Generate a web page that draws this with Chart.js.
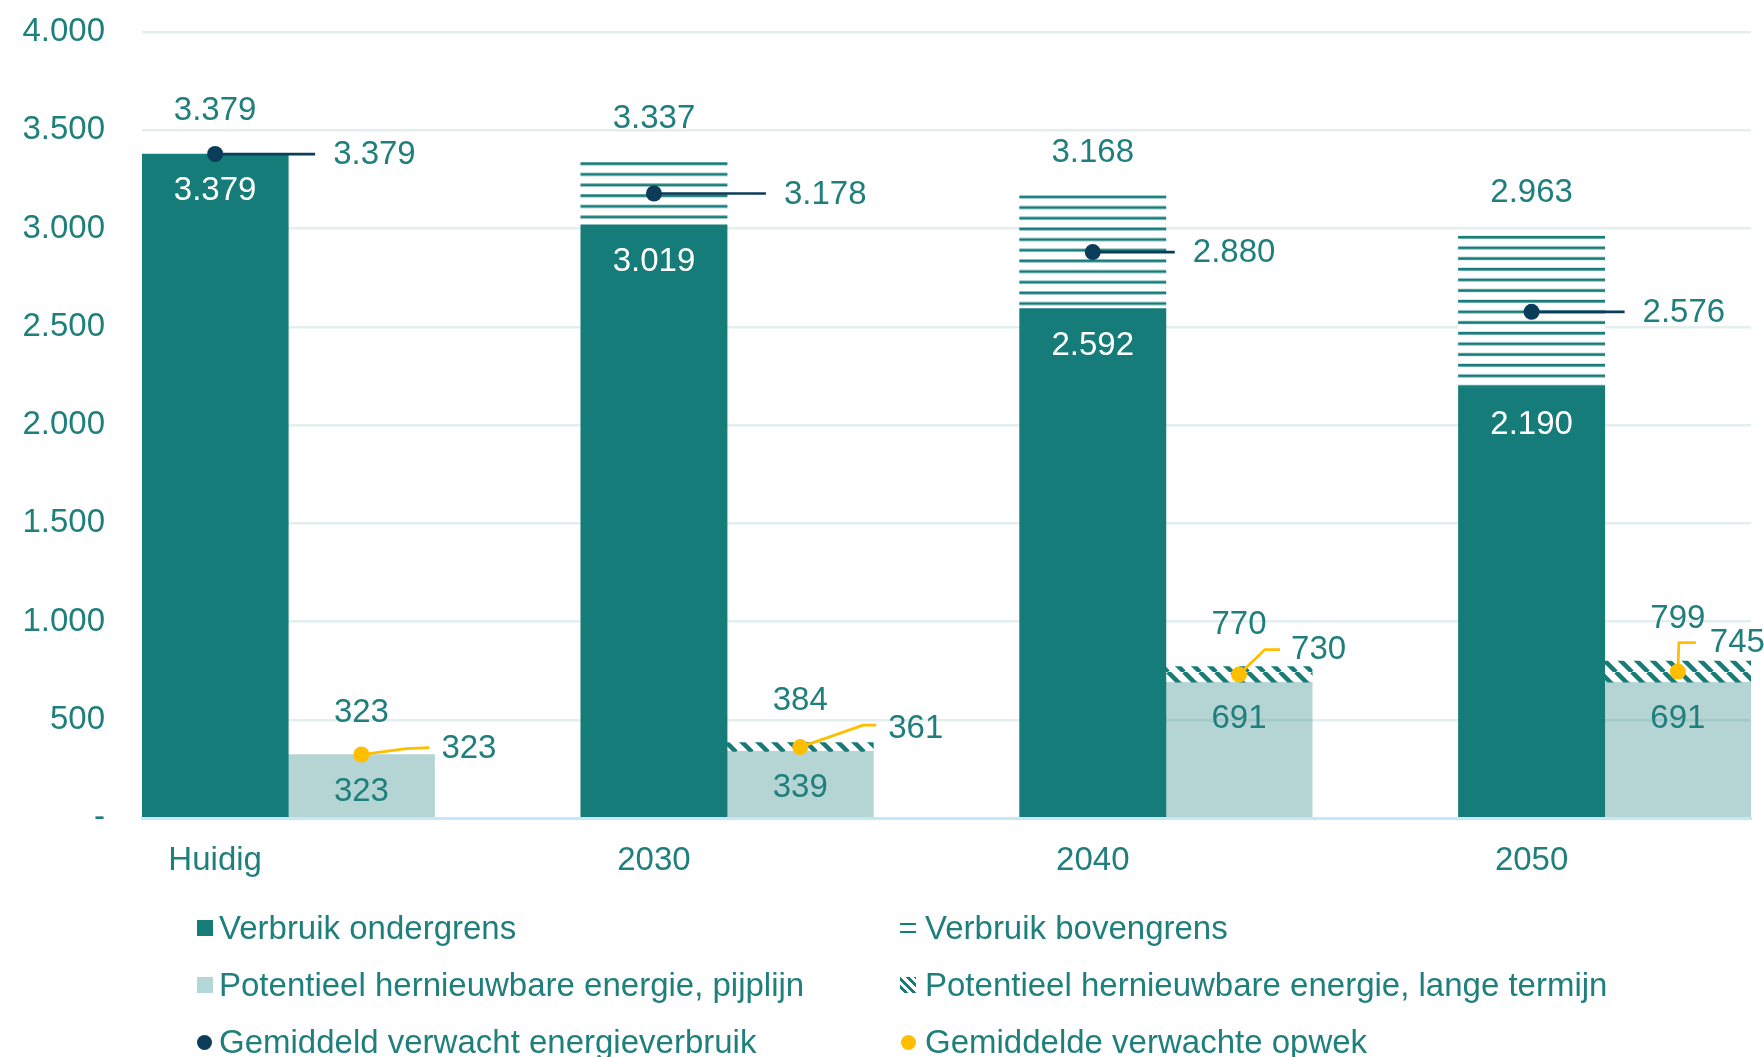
<!DOCTYPE html>
<html>
<head>
<meta charset="utf-8">
<script src="https://cdn.jsdelivr.net/npm/chart.js@4.4.1/dist/chart.umd.min.js"></script>
<style>
html,body{margin:0;padding:0;background:#fff;}
#wrap{position:relative;width:1764px;height:1057px;overflow:hidden;font-family:"Liberation Sans",Arial,sans-serif;background:#fff;}
#chart{position:absolute;left:0;top:0;}
.lg{position:absolute;height:40px;display:flex;align-items:center;font-size:33px;color:#1f7f7c;white-space:nowrap;}
.mk{display:inline-block;flex:none;}
.sq-dark{width:16px;height:16px;background:#157c79;margin-right:6px;}
.sq-light{width:16px;height:16px;background:#b4d7d7;margin-right:6px;}
.dot-navy{width:15px;height:15px;border-radius:50%;background:#0b3d5a;margin-right:7px;}
.dot-yel{width:15px;height:15px;border-radius:50%;background:#ffbf00;margin-right:9px;}
.eq{width:16px;height:10px;border-top:2px solid #157c79;border-bottom:2px solid #157c79;box-sizing:border-box;margin-right:9px;}
.hatch{width:16px;height:16px;margin-right:9px;background:repeating-linear-gradient(45deg,#fff 0 3px,#157c79 3px 6px);}
</style>
</head>
<body>
<div id="wrap">
<canvas id="chart" width="1764" height="1057"></canvas>
<div class="lg" style="left:197px;top:908px;"><span class="mk sq-dark"></span>Verbruik ondergrens</div>
<div class="lg" style="left:900px;top:908px;"><span class="mk eq"></span>Verbruik bovengrens</div>
<div class="lg" style="left:197px;top:965px;"><span class="mk sq-light"></span>Potentieel hernieuwbare energie, pijplijn</div>
<div class="lg" style="left:900px;top:965px;"><span class="mk hatch"></span>Potentieel hernieuwbare energie, lange termijn</div>
<div class="lg" style="left:197px;top:1022px;"><span class="mk dot-navy"></span>Gemiddeld verwacht energieverbruik</div>
<div class="lg" style="left:901px;top:1022px;"><span class="mk dot-yel"></span>Gemiddelde verwachte opwek</div>
</div>
<script>
// ---------------- DATA ----------------
const categories = ['Huidig', '2030', '2040', '2050'];
const verbruikOndergrens = [3379, 3019, 2592, 2190];
const verbruikBovengrens = [3379, 3337, 3168, 2963];
const potentieelPijplijn = [323, 339, 691, 691];
const potentieelLangeTermijn = [323, 384, 770, 799];
const gemiddeldVerbruik = [3379, 3178, 2880, 2576];
const gemiddeldeOpwek = [323, 361, 730, 745];
const yTickValues = [0, 500, 1000, 1500, 2000, 2500, 3000, 3500, 4000];

// ---------------- STYLE ----------------
const TEAL = '#157c79';
const LIGHT = 'rgba(21,124,121,0.32)';
const NAVY = '#0b3d5a';
const YELLOW = '#ffbf00';
const TEXT = '#1f7f7c';
const GRID = '#e4eeee';
const BASE = '#c6e8f6';
const FONT_FAMILY = '"Liberation Sans", Arial, sans-serif';
const FONT_SIZE = 33;

// label nudges (pixels, relative to the point)
const avgLeaderLen = [100, 112, 82, 93];
const avgLabelGap = 18;
const opwekLeader = [
  {ex: 45, ey: -6, tx: 68, ty: -7, lx: 80, ly: -6},
  {ex: 63, ey: -22, tx: 76, ty: -22, lx: 88, ly: -18},
  {ex: 26, ey: -25, tx: 41, ty: -25, lx: 52, ly: -25},
  {ex: 1, ey: -29, tx: 18, ty: -29, lx: 32, ly: -29}
];

const fmt = v => String(v).replace(/\B(?=(\d{3})+(?!\d))/g, '.');

// slots: dark bar, light bar, gap per category
const slotLabels = [];
categories.forEach((c, i) => {
  slotLabels.push(c, '');
  if (i < categories.length - 1) slotLabels.push('');
});
function slotData(values, offset) {
  const arr = new Array(slotLabels.length).fill(null);
  values.forEach((v, i) => { arr[i * 3 + offset] = v; });
  return arr;
}

// horizontal-line hatch tile
const hTile = (() => {
  const c = document.createElement('canvas');
  c.width = 8; c.height = 32;
  const g = c.getContext('2d');
  g.fillStyle = '#fff'; g.fillRect(0, 0, 8, 32);
  g.fillStyle = TEAL;
  for (let k = 0; k < 3; k++) g.fillRect(0, k * 32 / 3, 8, 2.8);
  return c;
})();
const hPatternCache = {};
function hLinePatternAt(top) {
  const key = top.toFixed(2);
  if (!hPatternCache[key]) {
    const p = document.createElement('canvas').getContext('2d').createPattern(hTile, 'repeat');
    p.setTransform(new DOMMatrix().translate(0, top));
    hPatternCache[key] = p;
  }
  return hPatternCache[key];
}
function diagPattern() {
  const s = 16;
  const c = document.createElement('canvas');
  c.width = s; c.height = s;
  const g = c.getContext('2d');
  g.fillStyle = '#fff'; g.fillRect(0, 0, s, s);
  g.strokeStyle = TEAL; g.lineWidth = 4.5;
  g.beginPath();
  for (let o = -s; o <= s; o += s) { g.moveTo(o, 0); g.lineTo(o + s, s); }
  g.stroke();
  return g.createPattern(c, 'repeat');
}

// difference between upper and lower value; nothing drawn where they are equal
const diff = (a, b) => a.map((v, i) => (v - b[i]) === 0 ? null : v - b[i]);

const annot = {
  id: 'annot',
  beforeDatasetDraw(chart, args) {
    const ds = chart.data.datasets[args.index];
    const ctx = chart.ctx, x = chart.scales.x, y = chart.scales.y;
    if (ds.key === 'avg') {
      ctx.save();
      ctx.strokeStyle = NAVY; ctx.lineWidth = 2.7;
      gemiddeldVerbruik.forEach((v, i) => {
        const px = x.getPixelForValue(i * 3), py = y.getPixelForValue(v);
        ctx.beginPath(); ctx.moveTo(px, py); ctx.lineTo(px + avgLeaderLen[i], py); ctx.stroke();
      });
      ctx.restore();
    }
    if (ds.key === 'opwek') {
      ctx.save();
      ctx.strokeStyle = YELLOW; ctx.lineWidth = 2.8; ctx.lineJoin = 'round';
      gemiddeldeOpwek.forEach((v, i) => {
        const px = x.getPixelForValue(i * 3 + 1), py = y.getPixelForValue(v);
        const L = opwekLeader[i];
        ctx.beginPath(); ctx.moveTo(px, py); ctx.lineTo(px + L.ex, py + L.ey); ctx.lineTo(px + L.tx, py + L.ty); ctx.stroke();
      });
      ctx.restore();
    }
  },
  afterDatasetsDraw(chart) {
    const ctx = chart.ctx, x = chart.scales.x, y = chart.scales.y;
    ctx.save();
    ctx.font = FONT_SIZE + 'px ' + FONT_FAMILY;
    ctx.textBaseline = 'middle';
    categories.forEach((c, i) => {
      const xd = x.getPixelForValue(i * 3), xl = x.getPixelForValue(i * 3 + 1);
      ctx.textAlign = 'center';
      ctx.fillStyle = '#ffffff';
      ctx.fillText(fmt(verbruikOndergrens[i]), xd, y.getPixelForValue(verbruikOndergrens[i]) + 37);
      ctx.fillStyle = TEXT;
      ctx.fillText(fmt(verbruikBovengrens[i]), xd, y.getPixelForValue(verbruikBovengrens[i]) - 43);
      ctx.fillText(fmt(potentieelPijplijn[i]), xl, y.getPixelForValue(potentieelPijplijn[i]) + 37);
      ctx.fillText(fmt(potentieelLangeTermijn[i]), xl, y.getPixelForValue(potentieelLangeTermijn[i]) - 42);
      ctx.textAlign = 'left';
      const ay = y.getPixelForValue(gemiddeldVerbruik[i]);
      ctx.fillText(fmt(gemiddeldVerbruik[i]), xd + avgLeaderLen[i] + avgLabelGap, ay + 1);
      const oy = y.getPixelForValue(gemiddeldeOpwek[i]);
      const L = opwekLeader[i];
      ctx.fillText(fmt(gemiddeldeOpwek[i]), xl + L.lx, oy + L.ly);
    });
    ctx.restore();
  }
};

Chart.defaults.font.family = FONT_FAMILY;
Chart.defaults.font.size = FONT_SIZE;
Chart.defaults.color = TEXT;

new Chart(document.getElementById('chart'), {
  type: 'bar',
  data: {
    labels: slotLabels,
    datasets: [
      {type: 'line', key: 'avg', label: 'Gemiddeld verwacht energieverbruik', data: slotData(gemiddeldVerbruik, 0),
       showLine: false, pointRadius: 8, pointHoverRadius: 8, pointBackgroundColor: NAVY, pointBorderWidth: 0,
       stack: 'avg', order: 0},
      {type: 'line', key: 'opwek', label: 'Gemiddelde verwachte opwek', data: slotData(gemiddeldeOpwek, 1),
       showLine: false, pointRadius: 8, pointHoverRadius: 8, pointBackgroundColor: YELLOW, pointBorderWidth: 0,
       stack: 'opwek', order: 0},
      {label: 'Verbruik ondergrens', data: slotData(verbruikOndergrens, 0), backgroundColor: TEAL, stack: 'bars', order: 1},
      {label: 'Verbruik bovengrens', data: slotData(diff(verbruikBovengrens, verbruikOndergrens), 0),
       backgroundColor: (c) => {
         const i = Math.floor(c.dataIndex / 3);
         const ys = c.chart.scales && c.chart.scales.y;
         const top = ys ? ys.getPixelForValue(verbruikBovengrens[i] || 0) : 0;
         return hLinePatternAt(isFinite(top) ? top : 0);
       },
       stack: 'bars', order: 1},
      {label: 'Potentieel hernieuwbare energie, pijplijn', data: slotData(potentieelPijplijn, 1), backgroundColor: LIGHT, stack: 'bars', order: 1},
      {label: 'Potentieel hernieuwbare energie, lange termijn', data: slotData(diff(potentieelLangeTermijn, potentieelPijplijn), 1), backgroundColor: diagPattern(), stack: 'bars', order: 1}
    ]
  },
  options: {
    responsive: false,
    animation: false,
    events: [],
    layout: {padding: {left: 0, right: 13, top: 32, bottom: 0}},
    datasets: {bar: {barPercentage: 1, categoryPercentage: 1, borderWidth: 0}},
    plugins: {legend: {display: false}, tooltip: {enabled: false}},
    scales: {
      x: {
        stacked: true,
        grid: {display: false},
        border: {display: true, color: BASE, width: 3},
        ticks: {autoSkip: false, maxRotation: 0, minRotation: 0, padding: 15, color: TEXT},
        afterFit(scale) { scale.height = 1057 - 818; scale.paddingLeft = 0; scale.paddingRight = 0; }
      },
      y: {
        stacked: true,
        min: 0, max: 4000,
        afterBuildTicks(scale) { scale.ticks = yTickValues.map(v => ({value: v})); },
        ticks: {padding: 37, color: TEXT, callback: v => v === 0 ? '-' : fmt(v)},
        grid: {color: ctx => (ctx.tick && ctx.tick.value === 0) ? 'rgba(0,0,0,0)' : GRID, lineWidth: 2.5, drawTicks: false},
        border: {display: false},
        afterFit(scale) { scale.width = 142; scale.paddingTop = 0; scale.paddingBottom = 0; }
      }
    }
  },
  plugins: [annot]
});
</script>
</body>
</html>
